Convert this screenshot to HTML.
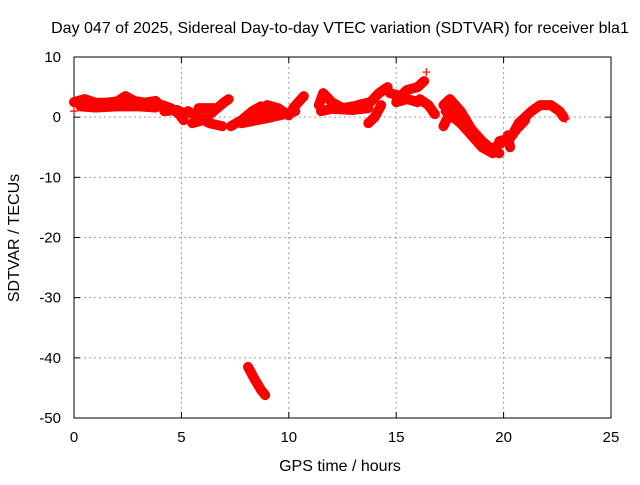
<!DOCTYPE html>
<html><head><meta charset="utf-8"><style>
body{margin:0;background:#fff}
svg text{font-family:"Liberation Sans",sans-serif;font-size:15px;fill:#000}
svg text.big{font-size:16px}
</style></head><body>
<svg id="chart" width="640" height="480" viewBox="0 0 640 480" xmlns="http://www.w3.org/2000/svg">
<rect width="640" height="480" fill="#fff"/>
<text class="big" x="340" y="33" text-anchor="middle">Day 047 of 2025, Sidereal Day-to-day VTEC variation (SDTVAR) for receiver bla1</text>
<g id="grid"></g><g id="axes"></g><g id="marks"></g>
<text class="big" x="340" y="471" text-anchor="middle">GPS time / hours</text>
<text class="big" transform="translate(19,238) rotate(-90)" text-anchor="middle">SDTVAR / TECUs</text>
</svg>
<script>
const xTicks=[0,5,10,15,20,25];
const yTicks=[10,0,-10,-20,-30,-40,-50];
const tracks=[
 [[0,2.5],[0.5,3],[1,2.4],[1.5,2.4],[2,2.6],[2.4,3.5],[2.8,2.7],[3.3,2.4],[3.8,2.7],[4,2]],
 [[0.3,1.8],[1,1.6],[2,1.8],[3,1.8],[3.8,1.6]],
 [[4.1,2],[4.5,1.5],[4.9,0.5],[5.1,-0.5]],
 [[4.2,1],[4.8,1.2],[5.2,0.5]],
 [[5.3,1],[5.8,0],[6.3,-1],[6.9,-1.5]],
 [[5.5,-1],[6,-0.5],[6.5,1],[7,2.5],[7.2,3]],
 [[5.8,1.5],[6.5,1.5]],
 [[7.3,-1.5],[7.8,-0.5],[8.3,1],[8.7,1.8],[9.2,1.2]],
 [[7.8,-1],[8.5,-0.5],[9.2,0],[9.8,0.5],[10.3,1]],
 [[8.5,0.5],[9,2],[9.5,1.5],[10,0.3]],
 [[10.2,1.5],[10.7,3.5]],
 [[11.4,2],[11.6,4],[12,2.5],[12.5,1.5],[13,1.8],[13.5,2]],
 [[11.5,1],[12,1.4],[13,1.2],[13.7,1.5]],
 [[13.2,2],[13.8,2.5],[14.2,4],[14.6,5]],
 [[13.7,-1],[14,0],[14.3,2]],
 [[14.7,4],[15.2,3.5],[15.5,4.5],[16,5],[16.3,6]],
 [[15,2.5],[15.5,3],[16,2.5]],
 [[16.1,3],[16.5,2],[16.8,0.5]],
 [[17.2,2],[17.5,3],[18,1],[18.5,-2],[19,-4],[19.5,-5.5],[19.8,-6]],
 [[17.3,1],[18,-1],[18.5,-3],[19,-5],[19.5,-6]],
 [[17.2,-1.5],[17.4,0],[17.5,2]],
 [[19.6,-5],[20,-4],[20.4,-3],[20.7,-1],[21,0],[21.3,1],[21.7,2],[22.2,2],[22.6,1],[22.8,0]],
 [[19.8,-4],[20.3,-3.5],[20.6,-2],[21,-0.5]],
 [[20.2,-3],[20.3,-5]],
 [[8.1,-41.5],[8.4,-43.5],[8.7,-45.3],[8.9,-46.2]]
];
const singles=[[16.4,7.5],[0,2.3],[0,1],[22.9,-0.3]];
const NS="http://www.w3.org/2000/svg";
const L=74,R=611,T=57,B=418;
const xs=t=>L+(t-0)/25*(R-L);
const ys=v=>T+(10-v)/60*(B-T);
function mk(tag,attrs,parent){const e=document.createElementNS(NS,tag);for(const k in attrs)e.setAttribute(k,attrs[k]);parent.appendChild(e);return e;}
const grid=document.getElementById('grid'),axes=document.getElementById('axes'),marks=document.getElementById('marks');
xTicks.forEach(t=>{
 const x=xs(t);
 if(t>0&&t<25){const g=mk('line',{x1:x,x2:x,y1:T,y2:B,stroke:'#a0a0a0','stroke-dasharray':'2,3'},grid);
 
 }
 mk('line',{x1:x,x2:x,y1:B,y2:B-6,stroke:'#000'},axes);
 mk('line',{x1:x,x2:x,y1:T,y2:T+6,stroke:'#000'},axes);
 const tx=mk('text',{x:x,y:B+24,'text-anchor':'middle'},axes);tx.textContent=t;
 
 
});
yTicks.forEach(v=>{
 const y=ys(v);
 if(v<10&&v>-50){const g=mk('line',{x1:L,x2:R,y1:y,y2:y,stroke:'#a0a0a0','stroke-dasharray':'2,3'},grid);
 
 }
 mk('line',{x1:L,x2:L+6,y1:y,y2:y,stroke:'#000'},axes);
 mk('line',{x1:R,x2:R-6,y1:y,y2:y,stroke:'#000'},axes);
 const tx=mk('text',{x:L-13,y:y+5,'text-anchor':'end'},axes);tx.textContent=v;
 
 
});
const fr=mk('rect',{x:L,y:T,width:R-L,height:B-T,fill:'none',stroke:'#000'},axes);


function plus(t,v){
 const x=xs(t),y=ys(v);
 const p=mk('path',{d:`M${x-4},${y}H${x+4}M${x},${y-4}V${y+4}`,stroke:'#f00','stroke-width':1.2},marks);
 
 
}
tracks.forEach(tr=>{
 const pl=mk('polyline',{points:tr.map(p=>xs(p[0])+','+ys(p[1])).join(' '),fill:'none',stroke:'#f00','stroke-width':10,'stroke-linejoin':'round','stroke-linecap':'round'},marks);
 
 
 tr.forEach(p=>plus(p[0],p[1]));
});
singles.forEach(p=>plus(p[0],p[1]));
</script>
</body></html>
